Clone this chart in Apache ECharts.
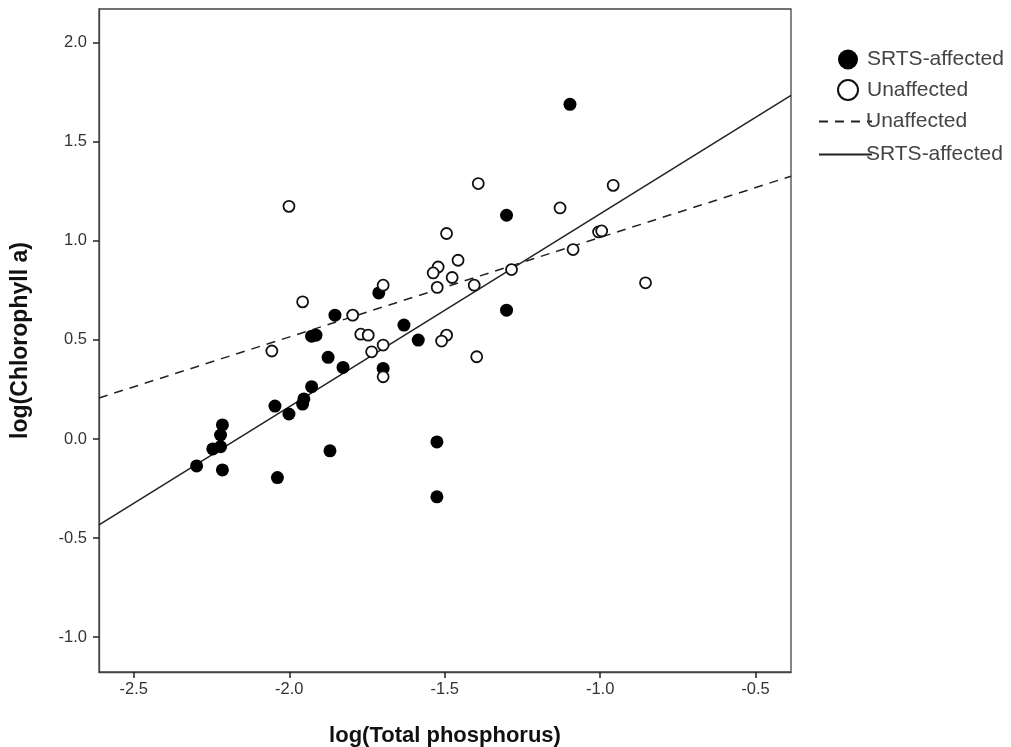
<!DOCTYPE html>
<html>
<head>
<meta charset="utf-8">
<script src="https://cdn.jsdelivr.net/npm/echarts@6/dist/echarts.min.js"></script>
<style>html,body{margin:0;padding:0;background:#fff}#c{width:1011px;height:747px}</style>
</head>
<body>
<div id="c"></div>
<script>
// SRTS-affected points [logTP, logChla]
const affectedX = [-2.298,-2.246,-2.221,-2.221,-2.215,-2.215,-2.046,-2.038,-2.001,-1.957,-1.953,-1.928,-1.928,-1.914,-1.875,-1.869,-1.853,-1.827,-1.712,-1.698,-1.631,-1.585,-1.525,-1.525,-1.301,-1.301,-1.097];
const affectedY = [-0.136,-0.050,-0.039,0.020,0.071,-0.156,0.166,-0.195,0.126,0.176,0.202,0.264,0.519,0.524,0.412,-0.060,0.625,0.361,0.737,0.356,0.575,0.499,-0.015,-0.292,1.129,0.650,1.689];
// Unaffected points
const unaffectedX = [-1.392,-0.958,-1.129,-1.005,-0.995,-1.494,-1.457,-1.521,-1.537,-1.476,-1.524,-1.405,-1.285,-1.087,-0.854,-1.494,-1.510,-1.397,-2.056,-2.001,-1.957,-1.796,-1.770,-1.746,-1.735,-1.698,-1.698,-1.698];
const unaffectedY = [1.289,1.280,1.166,1.045,1.050,1.037,0.902,0.868,0.838,0.815,0.765,0.776,0.855,0.956,0.788,0.524,0.494,0.415,0.444,1.174,0.692,0.625,0.529,0.524,0.440,0.474,0.776,0.314];
// Fit line end points (x, y)
const fitX = [-2.612, -0.386];
const fitUnaffectedY = [0.207, 1.326];
const fitAffectedY = [-0.433, 1.734];
const xTicks = [-2.5, -2.0, -1.5, -1.0, -0.5];
const yTicks = [-1.0, -0.5, 0.0, 0.5, 1.0, 1.5, 2.0];

const zip = (a, b) => a.map((v, i) => [v, b[i]]);
const chart = echarts.init(document.getElementById('c'), null, {renderer: 'canvas'});
const font = 'Liberation Sans, Arial, sans-serif';
chart.setOption({
  animation: false,
  backgroundColor: '#fff',
  grid: {left: 99, right: 220, top: 9, bottom: 75, outerBoundsMode: 'none', containLabel: false,
    show: true, borderColor: '#444', borderWidth: 1.3, backgroundColor: 'transparent'},
  xAxis: {
    type: 'value', min: -2.612, max: -0.386, interval: 0.5,
    name: 'log(Total phosphorus)', nameLocation: 'middle', nameGap: 53,
    nameTextStyle: {fontFamily: font, fontSize: 22, fontWeight: 'bold', color: '#111'},
    axisLine: {show: true, onZero: false, lineStyle: {color: '#444', width: 1.3}},
    axisTick: {show: true, length: 6, lineStyle: {color: '#222', width: 1.5},
      customValues: xTicks},
    axisLabel: {margin: 9, fontFamily: font, fontSize: 16.5, color: '#333',
      customValues: xTicks, formatter: v => v.toFixed(1)},
    splitLine: {show: false}
  },
  yAxis: {
    type: 'value', min: -1.176, max: 2.17,
    name: 'log(Chlorophyll a)', nameLocation: 'middle', nameGap: 67, nameRotate: 90,
    nameTextStyle: {fontFamily: font, fontSize: 23, fontWeight: 'bold', color: '#111'},
    axisLine: {show: true, onZero: false, lineStyle: {color: '#444', width: 1.3}},
    axisTick: {show: true, length: 6, lineStyle: {color: '#222', width: 1.5},
      customValues: yTicks},
    axisLabel: {margin: 12, fontFamily: font, fontSize: 16.5, color: '#333',
      customValues: yTicks, formatter: v => v.toFixed(1)},
    splitLine: {show: false}
  },
  legend: [{
    orient: 'vertical', left: 832, top: 44, itemWidth: 20, itemHeight: 20, itemGap: 9,
    data: ['SRTS-affected', 'Unaffected'],
    textStyle: {fontFamily: font, fontSize: 21, color: '#444', padding: [0, 0, 0, 4]}
  }, {
    orient: 'vertical', left: 813, top: 106, itemWidth: 53, itemHeight: 16, itemGap: 12,
    data: ['Unaffected fit', 'SRTS-affected fit'],
    itemStyle: {opacity: 0},
    formatter: n => n.replace(' fit', ''),
    textStyle: {fontFamily: font, fontSize: 21, color: '#444', padding: [0, 0, 0, -11]}
  }],
  series: [{
    name: 'SRTS-affected', type: 'scatter', symbol: 'circle', symbolSize: 13,
    itemStyle: {color: '#000', borderColor: '#000', borderWidth: 0, opacity: 1},
    data: zip(affectedX, affectedY), z: 4
  }, {
    name: 'Unaffected', type: 'scatter', symbol: 'circle', symbolSize: 11,
    itemStyle: {color: '#fff', borderColor: '#111', borderWidth: 1.8, opacity: 1},
    data: zip(unaffectedX, unaffectedY), z: 5
  }, {
    name: 'Unaffected fit', type: 'line', symbol: 'none', silent: true,
    lineStyle: {color: '#222', width: 1.5, type: [9, 7]},
    itemStyle: {color: '#222'},
    data: zip(fitX, fitUnaffectedY), z: 3
  }, {
    name: 'SRTS-affected fit', type: 'line', symbol: 'none', silent: true,
    lineStyle: {color: '#222', width: 1.5, type: 'solid'},
    itemStyle: {color: '#222'},
    data: zip(fitX, fitAffectedY), z: 3
  }]
});
</script>
</body>
</html>
